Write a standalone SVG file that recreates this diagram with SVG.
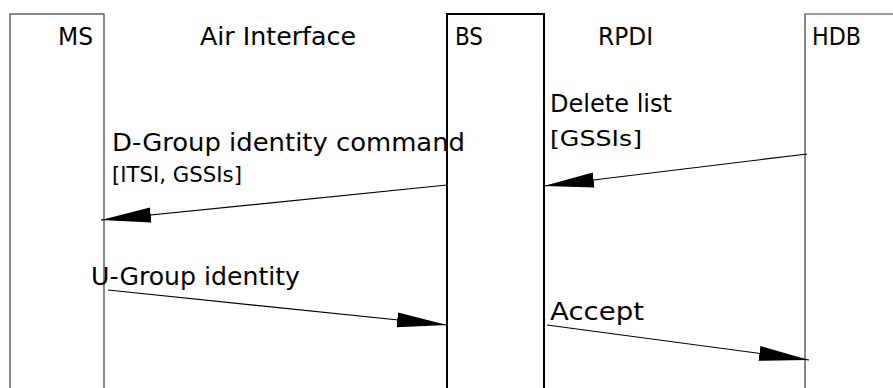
<svg xmlns="http://www.w3.org/2000/svg" width="893" height="388" viewBox="0 0 893 388">
<style>
.lbl{font-family:"DejaVu Sans","Liberation Sans",sans-serif;font-size:24.5px;fill:#000}
.sm{font-size:22px}
.box{fill:none;stroke:#3a3a3a;stroke-width:1.2}
.bs{fill:none;stroke:#000;stroke-width:2}
.msg{fill:none;stroke:#000;stroke-width:1.2}
</style>
<defs>
<marker id="ah" viewBox="0 -8 50 16" refX="50" refY="0" markerWidth="50" markerHeight="16" markerUnits="userSpaceOnUse" orient="auto">
<path d="M0,-7.5 L50,0 L0,7.5 z" fill="#000"/>
</marker>
</defs>
<rect width="893" height="388" fill="#fff"/>
<g id="ms">
<rect class="box" x="10" y="14" width="94" height="400"/>
<text class="lbl" x="58" y="45" textLength="35" lengthAdjust="spacingAndGlyphs">MS</text>
</g>
<g id="air">
<text class="lbl" x="200" y="45" textLength="156" lengthAdjust="spacingAndGlyphs">Air Interface</text>
</g>
<g id="bs">
<rect class="bs" x="447" y="14" width="97" height="400"/>
<text class="lbl" x="455" y="45" textLength="28" lengthAdjust="spacingAndGlyphs">BS</text>
</g>
<g id="rpdi">
<text class="lbl" x="598" y="45" textLength="55" lengthAdjust="spacingAndGlyphs">RPDI</text>
</g>
<g id="hdb">
<path class="box" d="M900,14 H805 V400"/>
<text class="lbl" x="812" y="45" textLength="49" lengthAdjust="spacingAndGlyphs">HDB</text>
</g>
<g id="connectors">
<line class="msg" x1="807" y1="154" x2="544" y2="186" marker-end="url(#ah)"/>
<line class="msg" x1="447" y1="185" x2="101" y2="220" marker-end="url(#ah)"/>
<line class="msg" x1="108" y1="290" x2="447" y2="325" marker-end="url(#ah)"/>
<line class="msg" x1="547" y1="325" x2="809" y2="360" marker-end="url(#ah)"/>
<text class="lbl" x="550" y="112" textLength="122" lengthAdjust="spacingAndGlyphs">Delete list</text>
<text class="lbl sm" x="550" y="146" textLength="92" lengthAdjust="spacingAndGlyphs">[GSSIs]</text>
<text class="lbl" x="112" y="151" textLength="353" lengthAdjust="spacingAndGlyphs">D-Group identity command</text>
<text class="lbl sm" x="112" y="182" textLength="130" lengthAdjust="spacingAndGlyphs">[ITSI, GSSIs]</text>
<text class="lbl" x="91" y="285" textLength="209" lengthAdjust="spacingAndGlyphs">U-Group identity</text>
<text class="lbl" x="550" y="320" textLength="94" lengthAdjust="spacingAndGlyphs">Accept</text>
</g>
</svg>
